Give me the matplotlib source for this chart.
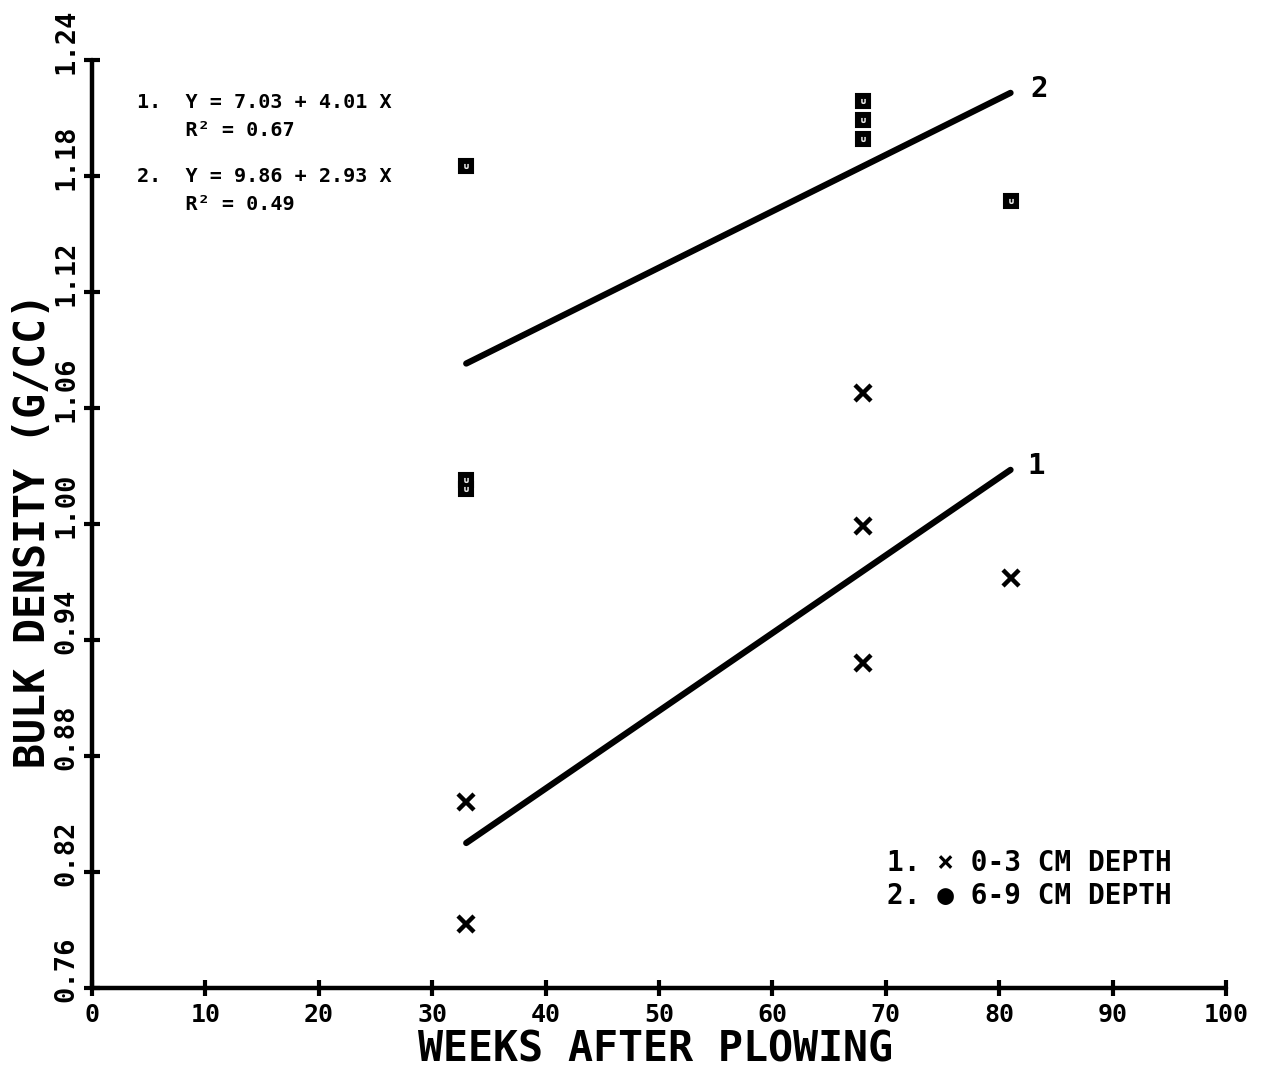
import matplotlib
matplotlib.use("Agg")
import matplotlib.pyplot as plt
from matplotlib.transforms import ScaledTranslation

# ---- data ----
weeks_1 = [33, 33, 68, 68, 68, 81]
density_1 = [0.856, 0.793, 1.068, 0.999, 0.928, 0.972]
weeks_2 = [33, 33, 33, 68, 68, 68, 81]
density_2 = [1.185, 1.023, 1.018, 1.219, 1.209, 1.199, 1.167]
fit_weeks = [33, 81]
fit_1 = [0.835, 1.028]
fit_2 = [1.083, 1.223]
x_ticks = [0, 10, 20, 30, 40, 50, 60, 70, 80, 90, 100]
y_ticks = [0.76, 0.82, 0.88, 0.94, 1.00, 1.06, 1.12, 1.18, 1.24]
y_tick_labels = ["0.76", "0.82", "0.88", "0.94", "1.00", "1.06", "1.12", "1.18", "1.24"]
eq_lines = ["1.  Y = 7.03 + 4.01 X", "    R\u00b2 = 0.67",
            "2.  Y = 9.86 + 2.93 X", "    R\u00b2 = 0.49"]
legend_lines = ["1. \u00d7 0-3 CM DEPTH", "2. \u25cf 6-9 CM DEPTH"]

FONT = "DejaVu Sans Mono"
plt.rcParams["font.family"] = [FONT, "DejaVu Sans"]
plt.rcParams["font.weight"] = "bold"

fig = plt.figure(figsize=(12.7, 10.7), dpi=100)
ax = fig.add_axes([92 / 1270, 1 - 988 / 1070, 1134 / 1270, 928 / 1070])

ax.set_xlim(0, 100)
ax.set_ylim(0.76, 1.24)

# regression lines
ax.plot(fit_weeks, fit_1, color="black", lw=4.5, solid_capstyle="round")
ax.plot(fit_weeks, fit_2, color="black", lw=4.5, solid_capstyle="round")
ax.text(fit_weeks[1] + 2.3, fit_1[1] + 0.002, "1", fontsize=21, fontweight="bold",
        ha="center", va="center")
ax.text(fit_weeks[1] + 2.5, fit_2[1] + 0.002, "2", fontsize=21, fontweight="bold",
        ha="center", va="center")

# points
ax.plot(weeks_1, density_1, linestyle="none", marker="x", color="black",
        markersize=12, markeredgewidth=3.2)
ax.plot(weeks_2, density_2, linestyle="none", marker="s", color="black",
        markersize=10.5, markeredgewidth=1.5, markerfacecolor="black",
        markeredgecolor="black")
ax.plot(weeks_2, density_2, linestyle="none", marker="$\\cup$", color="white",
        markersize=3.5, markeredgewidth=0.2)

# spines
for s in ["top", "right"]:
    ax.spines[s].set_visible(False)
for s in ["left", "bottom"]:
    ax.spines[s].set_linewidth(3.2)
    ax.spines[s].set_capstyle("round")

ax.set_xticks(x_ticks)
ax.set_xticklabels([str(v) for v in x_ticks], fontsize=18, fontweight="bold")
ax.set_yticks(y_ticks)
ax.set_yticklabels(y_tick_labels, fontsize=19.5, fontweight="bold",
                   rotation=90, va="bottom")
ax.tick_params(axis="both", direction="inout", length=12, width=3)
ax.tick_params(axis="x", pad=5)
ax.tick_params(axis="y", pad=3)
off = ScaledTranslation(0, -14 / 100, fig.dpi_scale_trans)
for lab in ax.get_yticklabels():
    lab.set_transform(lab.get_transform() + off)

# axis titles
ax.text((33 - 92) / 1134, (988 - 530) / 928, "BULK DENSITY (G/CC)",
        transform=ax.transAxes, rotation=90, ha="center", va="center",
        fontsize=30, fontweight="bold")
ax.text((655 - 92) / 1134, (988 - 1050) / 928, "WEEKS AFTER PLOWING",
        transform=ax.transAxes, ha="center", va="center",
        fontsize=30, fontweight="bold")

# equations
eq_y = [103, 131, 176, 205]
for line, py in zip(eq_lines, eq_y):
    ax.text((137 - 92) / 1134, (988 - py) / 928, line, transform=ax.transAxes,
            ha="left", va="center", fontsize=14.5, fontweight="bold")

# legend text
leg_y = [863, 896]
for line, py in zip(legend_lines, leg_y):
    ax.text((887 - 92) / 1134, (988 - py) / 928, line, transform=ax.transAxes,
            ha="left", va="center", fontsize=20, fontweight="bold")

fig.savefig("out.png", dpi=100)
